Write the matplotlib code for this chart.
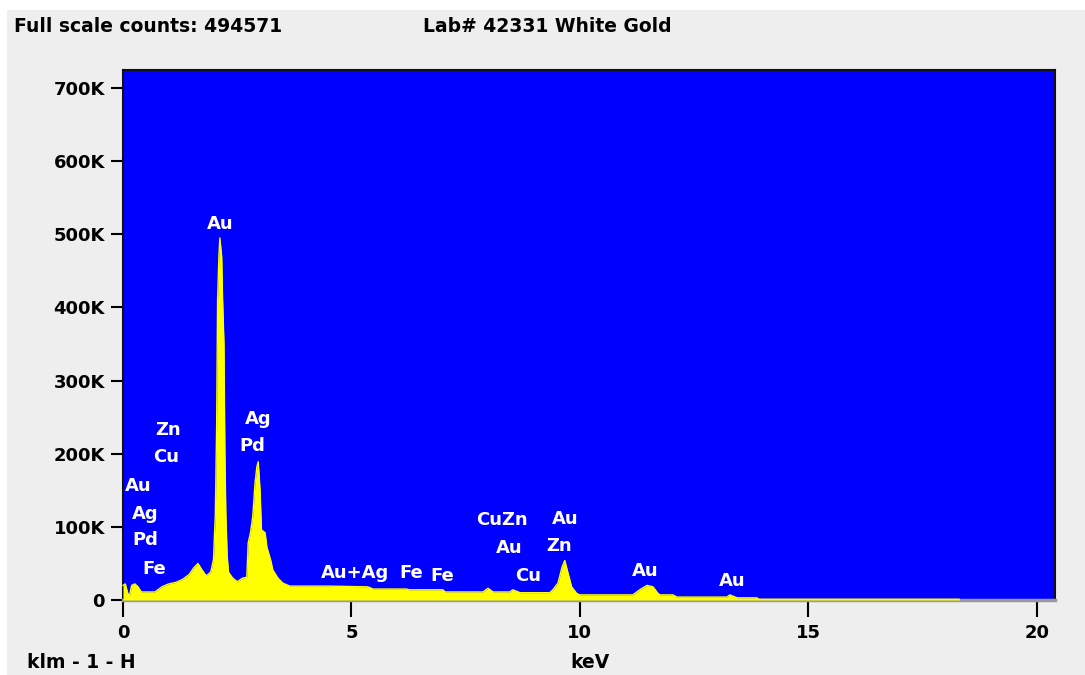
import matplotlib
matplotlib.use("Agg")
import matplotlib.pyplot as plt
from matplotlib.patches import Rectangle

# spectrum (keV, counts in thousands)
energy = [0.00, 0.05, 0.10, 0.14, 0.19, 0.26, 0.33, 0.40, 0.70, 0.85, 1.00, 1.15,
          1.30, 1.45, 1.55, 1.64, 1.72, 1.82, 1.92, 1.98, 2.02, 2.05, 2.07, 2.10,
          2.12, 2.16, 2.18, 2.21, 2.23, 2.25, 2.28, 2.31, 2.40, 2.50, 2.62, 2.71,
          2.74, 2.79, 2.84, 2.89, 2.93, 2.96, 3.00, 3.03, 3.11, 3.15, 3.23, 3.28,
          3.39, 3.50, 3.65, 4.50, 5.35, 5.40, 5.47, 6.21, 6.25, 7.00, 7.05, 7.88,
          7.99, 8.10, 8.47, 8.53, 8.69, 9.34, 9.41, 9.52, 9.61, 9.67, 9.74, 9.82,
          9.93, 10.00, 11.16, 11.31, 11.47, 11.60, 11.71, 11.75, 12.04, 12.12, 13.22,
          13.28, 13.44, 13.87, 13.92, 18.30]
counts = [20, 22, 10, 5, 20, 22, 18, 11, 11, 18, 22, 24,
          28, 35, 44, 50, 42, 33, 38, 55, 115, 240, 410, 472,
          495, 469, 410, 350, 200, 120, 60, 38, 30, 25, 30, 31,
          78, 92, 114, 160, 182, 189, 150, 96, 92, 72, 55, 41,
          30, 23, 19, 19, 18, 17, 15, 15, 14, 14, 11, 11,
          16, 11, 11, 14, 10, 10, 14, 23, 45, 54, 37, 18,
          9, 7, 7, 14, 20, 18, 9, 7, 7, 4, 4,
          7, 3, 3, 1, 1]

# peak labels
label_text = ["Au", "Ag", "Pd", "Zn", "Cu", "Au", "Ag", "Pd", "Fe", "Au+Ag", "Fe", "Fe",
              "CuZn", "Au", "Cu", "Au", "Zn", "Au", "Au"]
label_kev = [2.12, 2.95, 2.82, 0.98, 0.94, 0.33, 0.48, 0.48, 0.68, 5.08, 6.32, 6.98,
             8.29, 8.45, 8.86, 9.67, 9.54, 11.44, 13.33]
label_k = [514, 247, 211, 232, 196, 156, 118, 82, 42, 37, 37, 33,
           109, 71, 33, 111, 74, 40, 26]

xticks = [0, 5, 10, 15, 20]
yticks = [0, 100, 200, 300, 400, 500, 600, 700]
ytick_labels = ["0", "100K", "200K", "300K", "400K", "500K", "600K", "700K"]

plt.rcParams['font.family'] = ['DejaVu Sans']
plt.rcParams['font.weight'] = 'bold'

fig = plt.figure(figsize=(10.85, 6.75), dpi=100)
fig.patch.set_facecolor("white")
fig.patches.append(Rectangle((7 / 1085, 0), 1, 1 - 10 / 675, transform=fig.transFigure,
                             facecolor="#eeeeee", edgecolor="none", zorder=-5))

ax = fig.add_axes([123 / 1085, 75 / 675, 932 / 1085, 530 / 675])
ax.set_facecolor("#0000ff")
ax.fill_between(energy, counts, 0, color="#ffff00", linewidth=0, zorder=3)
ax.plot(energy, counts, color="#ffff00", linewidth=1.0, zorder=3.1, clip_on=False)

for t, xk, yk in zip(label_text, label_kev, label_k):
    ax.text(xk, yk, t, color="white", fontsize=13, fontweight="bold",
            ha="center", va="center", zorder=4)

ax.set_xlim(0, 20.4)
ax.set_ylim(0, 724.6)
ax.set_xticks(xticks)
ax.set_xticklabels([str(v) for v in xticks])
ax.set_yticks(yticks)
ax.set_yticklabels(ytick_labels)
ax.tick_params(axis="y", direction="out", length=9, width=1.5, pad=4, labelsize=13, colors="black")
ax.tick_params(axis="x", direction="out", length=12, width=1.5, pad=5, labelsize=13, colors="black")
for lab in ax.get_xticklabels() + ax.get_yticklabels():
    lab.set_fontweight("bold")

for s in ["left", "top", "right"]:
    ax.spines[s].set_color("#111111")
    ax.spines[s].set_linewidth(1.5)
ax.spines["bottom"].set_color("#999999")
ax.spines["bottom"].set_linewidth(2.5)

fig.text(14 / 1085, 1 - 27 / 675, "Full scale counts: 494571", fontsize=13.5,
         fontweight="bold", ha="left", va="center")
fig.text(423 / 1085, 1 - 27 / 675, "Lab# 42331 White Gold", fontsize=13.5,
         fontweight="bold", ha="left", va="center")
fig.text(27 / 1085, 1 - 662 / 675, "klm - 1 - H", fontsize=13.5,
         fontweight="bold", ha="left", va="center")
fig.text(590 / 1085, 1 - 662 / 675, "keV", fontsize=13.5,
         fontweight="bold", ha="center", va="center")

fig.savefig("out.png", dpi=100)
